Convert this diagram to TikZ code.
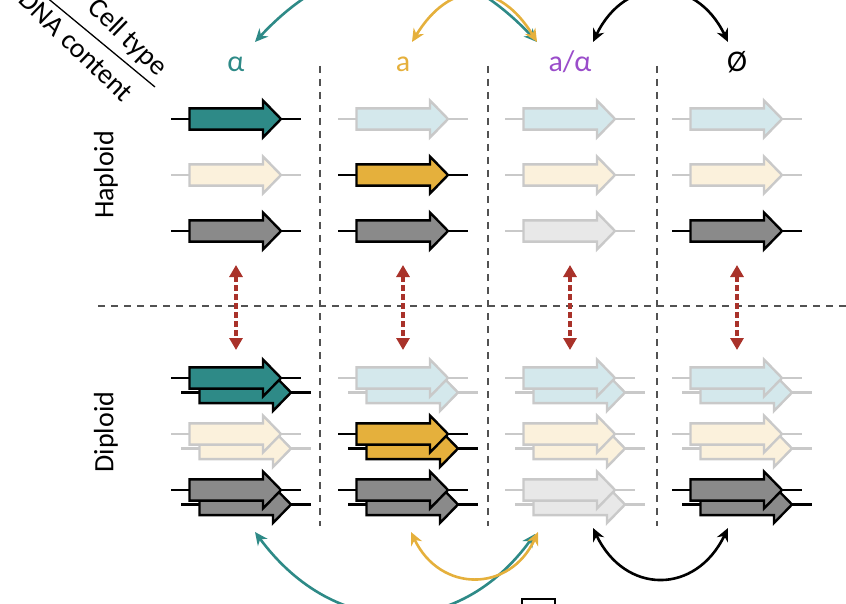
\documentclass[tikz,border=0pt]{standalone}
\usepackage{fontspec}
\setmainfont{Carlito}
\usetikzlibrary{arrows.meta}
\definecolor{cteal}{HTML}{2E8A87}
\definecolor{cgold}{HTML}{E5B03C}
\definecolor{cgray}{HTML}{8A8A8A}
\definecolor{cpurp}{HTML}{9A4DCA}
\definecolor{cred}{HTML}{A9322A}
\definecolor{iblue}{HTML}{D4E8EC}
\definecolor{icream}{HTML}{FBF1DC}
\definecolor{igray}{HTML}{E8E8E8}
\definecolor{istroke}{HTML}{C9C9C9}
\newcommand{\gene}[4]{%
  \begin{scope}[shift={(#1,#2)}]
    \draw[dna, draw=#4] (0,0) -- (130,0);
    \filldraw[genebody, fill=#3, draw=#4] (18.5,-10.6) -- (92,-10.6) -- (92,-18.5) -- (110,0) -- (92,18.5) -- (92,10.6) -- (18.5,10.6) -- cycle;
  \end{scope}}
\newcommand{\dgene}[4]{\gene{#1+10}{#2+14.5}{#3}{#4}\gene{#1}{#2}{#3}{#4}}
\begin{document}
\begin{tikzpicture}[x=1pt,y=-1pt,
  dna/.style={line width=2.4pt},
  genebody/.style={line width=2.4pt, line join=miter},
  gridline/.style={draw=black!68, line width=1.4pt, dash pattern=on 7pt off 6pt},
  switch/.style={line width=2.6pt, {Stealth[length=13pt,width=12pt]}-{Stealth[length=13pt,width=12pt]}},
  ploidy/.style={draw=cred, line width=3.4pt, dash pattern=on 6pt off 3pt, {Triangle[length=12pt,width=13pt]}-{Triangle[length=12pt,width=13pt]}},
  lab/.style={font=\fontsize{30}{32}\selectfont, anchor=base},
  rowlab/.style={font=\fontsize{28}{30}\selectfont, rotate=90},
  headlab/.style={font=\fontsize{28}{30}\selectfont, rotate=-44},
]
\useasboundingbox (0,0) rectangle (846,604);
\clip (0,0) rectangle (846,604);

% grid
\draw[gridline] (98,306) -- (846,306);
\foreach \x in {320,488,657} \draw[gridline] (\x,66) -- (\x,526);

% header
\draw[line width=1.3pt] (45,-4) -- (155,87);
\node[headlab] (celltype) at (127,38) {Cell type};
\node[headlab] (dnacontent) at (76,46) {DNA content};

% column labels
\node[lab, text=cteal] (lalpha) at (236,72) {α};
\node[lab, text=cgold] (la) at (403,72) {a};
\node[lab, text=cpurp] (lab) at (570,72) {a/α};
\node[lab] (lnull) at (737,72) {Ø};

% row labels
\node[rowlab] (hap) at (106,175) {Haploid};
\node[rowlab] (dip) at (106,432) {Diploid};

% haploid genes
\gene{171}{119}{cteal}{black}
\gene{171}{175}{icream}{istroke}
\gene{171}{231}{cgray}{black}
\gene{338}{119}{iblue}{istroke}
\gene{338}{175}{cgold}{black}
\gene{338}{231}{cgray}{black}
\gene{505}{119}{iblue}{istroke}
\gene{505}{175}{icream}{istroke}
\gene{505}{231}{igray}{istroke}
\gene{672}{119}{iblue}{istroke}
\gene{672}{175}{icream}{istroke}
\gene{672}{231}{cgray}{black}

% diploid genes
\dgene{171}{378}{cteal}{black}
\dgene{171}{434}{icream}{istroke}
\dgene{171}{490}{cgray}{black}
\dgene{338}{378}{iblue}{istroke}
\dgene{338}{434}{cgold}{black}
\dgene{338}{490}{cgray}{black}
\dgene{505}{378}{iblue}{istroke}
\dgene{505}{434}{icream}{istroke}
\dgene{505}{490}{igray}{istroke}
\dgene{672}{378}{iblue}{istroke}
\dgene{672}{434}{icream}{istroke}
\dgene{672}{490}{cgray}{black}

% ploidy arrows
\foreach \x/\n in {236/p1,403/p2,570/p3,737/p4}{
  \coordinate (\n t) at (\x,265);
  \coordinate (\n b) at (\x,350);
  \draw[ploidy] (\n t) -- (\n b);
}

% top switching arrows
\coordinate (tAl) at (255,42);
\coordinate (tA1) at (412,42);
\coordinate (tAB1) at (537,42);
\coordinate (tAB2) at (593,42);
\coordinate (tN) at (728,42);
\draw[switch, draw=cteal] (tAl) .. controls (345,-55) and (447,-55) .. (tAB1);
\draw[switch, draw=cgold] (tA1) .. controls (450,-20) and (499,-20) .. (tAB1);
\draw[switch, draw=black] (tAB2) .. controls (625,-25) and (696,-25) .. (tN);

% bottom switching arrows
\coordinate (bAl) at (255,532);
\coordinate (bA1) at (411,532);
\coordinate (bAB0) at (535,534);
\coordinate (bAB1) at (538,532);
\coordinate (bAB2) at (593,528);
\coordinate (bN) at (728,528);
\draw[switch, draw=cteal] (bAl) .. controls (335,640) and (458,640) .. (bAB0);
\draw[switch, draw=cgold] (bA1) .. controls (440,593) and (510,593) .. (bAB1);
\draw[switch, draw=black] (bAB2) .. controls (625,595) and (696,595) .. (bN);

% partial box at bottom edge
\draw[line width=2.2pt] (522,599) rectangle (555,615);
\end{tikzpicture}
\end{document}
